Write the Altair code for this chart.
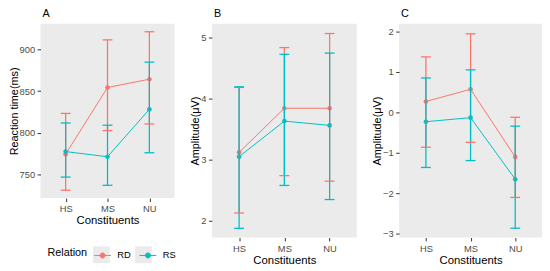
import altair as alt
import pandas as pd

constituents = ["HS", "MS", "NU"]
relations = ["RD", "RS"]
colors = ["#F8766D", "#00BFC4"]

# Panel A: reaction time (ms)
a_rd_mean = [774.7, 854.4, 864.3]
a_rd_lo = [731.6, 802.9, 810.8]
a_rd_hi = [823.4, 911.3, 921.0]
a_rs_mean = [777.8, 771.6, 828.3]
a_rs_lo = [747.3, 737.5, 776.4]
a_rs_hi = [812.0, 809.3, 884.7]

# Panel B: amplitude (μV)
b_rd_mean = [3.12, 3.84, 3.84]
b_rd_lo = [2.13, 2.74, 2.65]
b_rd_hi = [4.18, 4.83, 5.06]
b_rs_mean = [3.05, 3.63, 3.56]
b_rs_lo = [1.88, 2.58, 2.35]
b_rs_hi = [4.19, 4.72, 4.74]

# Panel C: amplitude (μV)
c_rd_mean = [0.27, 0.57, -1.10]
c_rd_lo = [-0.86, -0.74, -2.10]
c_rd_hi = [1.37, 1.94, -0.12]
c_rs_mean = [-0.23, -0.13, -1.65]
c_rs_lo = [-1.36, -1.19, -2.86]
c_rs_hi = [0.85, 1.05, -0.34]

a_ticks = [750, 800, 850, 900]
b_ticks = [2, 3, 4, 5]
c_ticks = [-3, -2, -1, 0, 1, 2]

FONT = "Liberation Sans"
LX, LY = 7, 226
TITLE_W = 40.3 + 6  # width of "Relation" at 11px plus its padding


def make_df(rd_mean, rd_lo, rd_hi, rs_mean, rs_lo, rs_hi):
    rows = []
    for rel, m, lo, hi in (("RD", rd_mean, rd_lo, rd_hi), ("RS", rs_mean, rs_lo, rs_hi)):
        for c, mv, lv, hv in zip(constituents, m, lo, hi):
            rows.append({"Constituent": c, "Relation": rel, "Relation2": rel,
                         "mean": mv, "lo": lv, "hi": hv})
    return pd.DataFrame(rows)


color_legend = alt.Legend(
    orient="none", legendX=LX, legendY=LY, direction="horizontal",
    title="Relation", titleOrient="left", titleFontSize=11, titleFontWeight="normal",
    titleFont=FONT, titlePadding=6, titleColor="#000000",
    labelFontSize=9.5, labelFont=FONT, labelColor="#000000",
    labelOffset=6, columnPadding=6, symbolSize=289,
    symbolType="M-1,0L1,0M-0.3,0A0.3,0.3,0,1,1,0.3,0A0.3,0.3,0,1,1,-0.3,0Z",
    symbolStrokeWidth=1, symbolOpacity=1, zindex=2,
)
box_legend = alt.Legend(
    orient="none", legendX=LX + TITLE_W, legendY=LY, direction="horizontal",
    title=None, labelExpr="''", labelOffset=0, labelFontSize=9.5,
    columnPadding=6 + 6 + 13.7, symbolSize=289,
    symbolType="square", symbolFillColor="#EBEBEB", symbolStrokeColor="#EBEBEB",
    symbolStrokeWidth=0, symbolOpacity=1, zindex=1,
)


def panel(df, title, ytitle, domain, ticks, width, height):
    base = alt.Chart(df)
    x = alt.X("Constituent:N", sort=constituents, title="Constituents",
              scale=alt.Scale(type="point", padding=0.6))
    y_scale = alt.Scale(domain=domain, nice=False, zero=False)
    color = alt.Color("Relation:N", scale=alt.Scale(domain=relations, range=colors),
                      legend=color_legend)
    line = base.mark_line(strokeWidth=1).encode(
        x=x,
        y=alt.Y("mean:Q", scale=y_scale, title=ytitle,
                axis=alt.Axis(values=ticks, format="d")),
        color=color,
    )
    pts = base.mark_point(filled=True, size=22, opacity=1).encode(x=x, y="mean:Q", color=color)
    rule = base.mark_rule(strokeWidth=1.3, opacity=1).encode(x=x, y="lo:Q", y2="hi:Q", color=color)
    cap_hi = base.mark_tick(size=10, thickness=1.3, opacity=1).encode(x=x, y="hi:Q", color=color)
    cap_lo = base.mark_tick(size=10, thickness=1.3, opacity=1).encode(x=x, y="lo:Q", color=color)
    boxes = base.mark_point(opacity=0, filled=True, color="#EBEBEB").encode(
        x=x, y="mean:Q",
        shape=alt.Shape("Relation2:N", scale=alt.Scale(range=["square", "square"]),
                        legend=box_legend),
    )
    return alt.layer(line, pts, rule, cap_hi, cap_lo, boxes).properties(
        width=width, height=height,
        title=alt.TitleParams(title, anchor="start", frame="group", fontSize=11,
                              fontWeight="normal", font=FONT, color="#000000", offset=4.5,
                              dx=2),
    )


pa = panel(make_df(a_rd_mean, a_rd_lo, a_rd_hi, a_rs_mean, a_rs_lo, a_rs_hi),
           "A", "Reaction time(ms)", [722.2, 930.6], a_ticks, 136, 177)
pb = panel(make_df(b_rd_mean, b_rd_lo, b_rd_hi, b_rs_mean, b_rs_lo, b_rs_hi),
           "B", "Amplitude(μV)", [1.73, 5.22], b_ticks, 147, 217)
pc = panel(make_df(c_rd_mean, c_rd_lo, c_rd_hi, c_rs_mean, c_rs_lo, c_rs_hi),
           "C", "Amplitude(μV)", [-3.09, 2.19], c_ticks, 145, 217)

chart = alt.hconcat(pa, pb, pc, spacing=15).properties(
    padding={"left": 0, "top": -2, "right": 0, "bottom": 0}, background="#FFFFFF"
).configure_view(fill="#EBEBEB", stroke=None).configure_axis(
    domain=False, grid=False, tickColor="#333333", tickSize=3.5, labelPadding=2.5,
    labelFontSize=9.5, labelColor="#4D4D4D", labelFont=FONT,
    titleFontSize=11, titleFontWeight="normal", titleColor="#000000", titleFont=FONT,
    titlePadding=0,
).configure_axisX(labelAngle=0, titlePadding=1.5, titleFontSize=11.5)

chart.save("out.html", embed_options={"renderer": "svg", "actions": False})
